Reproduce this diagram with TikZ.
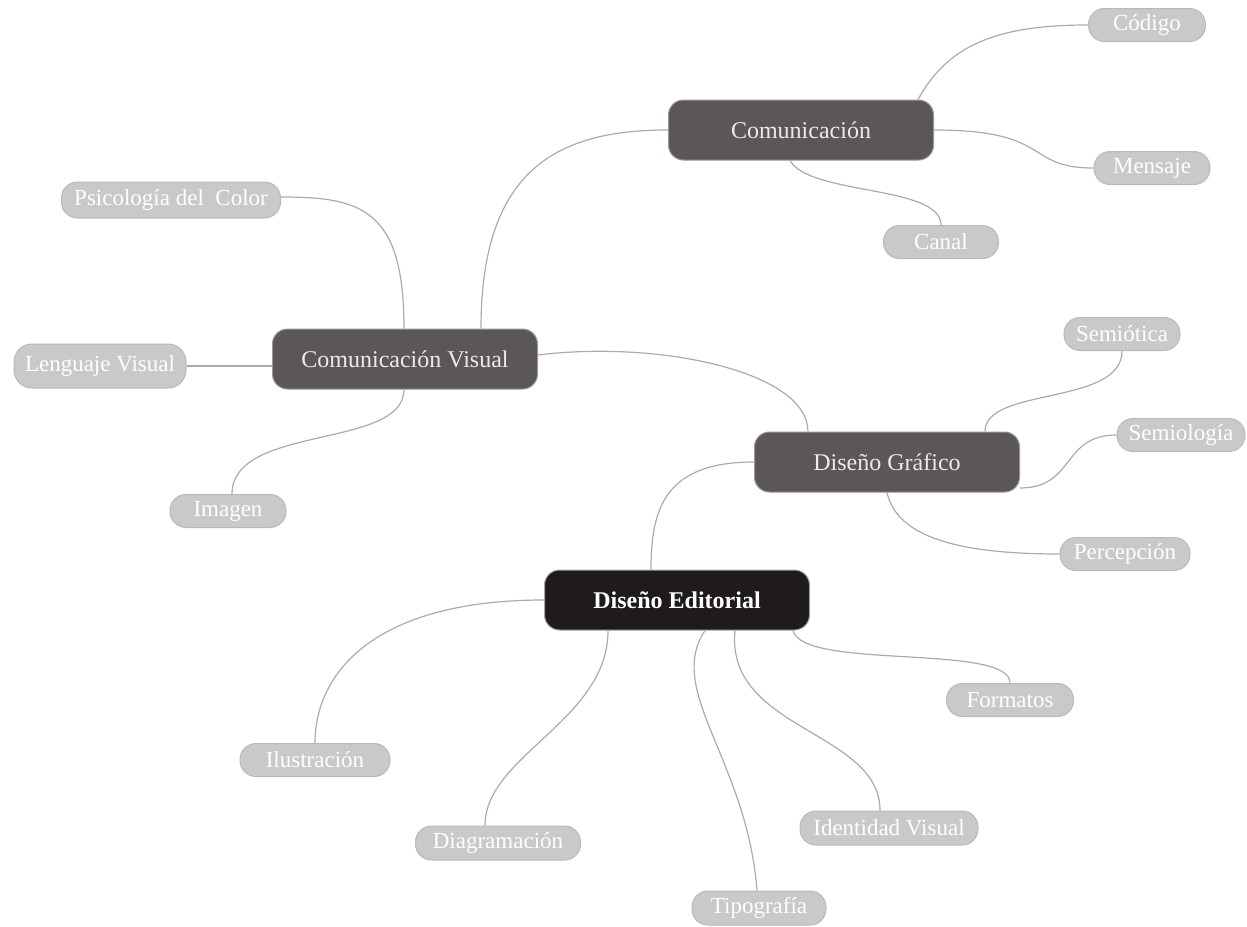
\documentclass[tikz,border=0pt]{standalone}
\usepackage{fontspec}
\setmainfont{Liberation Serif}
\definecolor{linkgray}{HTML}{ABABAB}
\definecolor{leaffill}{HTML}{C9C9C9}
\definecolor{leafedge}{HTML}{B9B9B9}
\definecolor{mainfill}{HTML}{5B5658}
\definecolor{mainedge}{HTML}{9A9698}
\definecolor{rootfill}{HTML}{1F1B1B}
\definecolor{maintext}{HTML}{EBEBEB}
\tikzset{
  hub/.style={fill=mainfill, draw=mainedge, line width=1pt, rounded corners=15pt,
    text=maintext, font=\fontsize{24}{28}\selectfont,
    minimum width=265pt, minimum height=60pt, inner sep=0pt},
  rootbox/.style={hub, fill=rootfill, draw=gray!70, text=white,
    font=\fontsize{24}{28}\selectfont\bfseries},
  leaf/.style={fill=leaffill, draw=leafedge, line width=1pt, rounded corners=16pt,
    text=white, font=\fontsize{23}{26}\selectfont,
    minimum height=33pt, inner sep=0pt},
  link/.style={draw=linkgray, line width=1.2pt}
}
\begin{document}
\begin{tikzpicture}[x=1pt,y=-1pt]
\useasboundingbox (0,0) rectangle (1247,926);

% central hubs
\node[hub] (com) at (801,130) {Comunicación};
\node[hub] (cv) at (405,359) {Comunicación Visual};
\node[hub] (dg) at (887,462) {Diseño Gráfico};
\node[rootbox] (de) at (677,600) {Diseño Editorial};

% leaves
\node[leaf, minimum width=117pt] (codigo) at (1147,25) {Código};
\node[leaf, minimum width=116pt] (mensaje) at (1152,168) {Mensaje};
\node[leaf, minimum width=115pt] (canal) at (941,242) {Canal};
\node[leaf, minimum width=219pt, minimum height=36pt] (psico) at (171,200) {Psicología del\ \ Color};
\node[leaf, minimum width=172pt, minimum height=44pt, rounded corners=18pt] (lengua) at (100,366) {Lenguaje Visual};
\node[leaf, minimum width=116pt] (imagen) at (228,511) {Imagen};
\node[leaf, minimum width=116pt] (semiot) at (1122,334) {Semiótica};
\node[leaf, minimum width=128pt] (semiol) at (1181,435) {Semiología};
\node[leaf, minimum width=130pt] (percep) at (1125,554) {Percepción};
\node[leaf, minimum width=127pt] (formatos) at (1010,700) {Formatos};
\node[leaf, minimum width=150pt] (ilus) at (315,760) {Ilustración};
\node[leaf, minimum width=165pt, minimum height=34pt] (diag) at (498,843) {Diagramación};
\node[leaf, minimum width=134pt, minimum height=34pt] (tipo) at (759,908) {Tipografía};
\node[leaf, minimum width=178pt, minimum height=34pt] (idv) at (889,828) {Identidad Visual};

% connectors
\path[link] ([xshift=76pt]cv.north) .. controls +(0,-160) and +(-110,0) .. (com.west);
\path[link] ([xshift=117pt]com.north) .. controls +(30,-55) and +(-90,0) .. (codigo.west);
\path[link] (com.east) .. controls +(120,0) and +(-70,0) .. (mensaje.west);
\path[link] ([xshift=-11pt]com.south) .. controls +(20,35) and +(0,-40) .. (canal.north);
\path[link] ([xshift=-1pt]cv.north) .. controls +(0,-120) and +(80,0) .. ([yshift=3pt]psico.east);
\path[link] (lengua.east) -- (lengua.east -| cv.west);
\path[link] ([xshift=-1pt]cv.south) .. controls +(0,60) and +(0,-70) .. ([xshift=4pt]imagen.north);
\path[link] ([yshift=4pt]cv.east) .. controls +(120,-15) and +(0,-60) .. ([xshift=-79pt]dg.north);
\path[link] ([xshift=98pt]dg.north) .. controls +(0,-45) and +(0,55) .. (semiot.south);
\path[link] ([yshift=-26pt]dg.east) .. controls +(55,0) and +(-55,0) .. (semiol.west);
\path[link] (dg.south) .. controls +(10,45) and +(-100,0) .. (percep.west);
\path[link] (dg.west) .. controls +(-90,0) and +(0,-60) .. ([xshift=-26pt]de.north);
\path[link] (de.west) .. controls +(-170,0) and +(0,-70) .. (ilus.north);
\path[link] ([xshift=-69pt]de.south) .. controls +(0,90) and +(0,-70) .. ([xshift=-13pt]diag.north);
\path[link] ([xshift=28pt]de.south) .. controls +(-40,60) and +(-10,-130) .. ([xshift=-2pt]tipo.north);
\path[link] ([xshift=58pt]de.south) .. controls +(-10,100) and +(0,-80) .. ([xshift=-9pt]idv.north);
\path[link] ([xshift=116pt]de.south) .. controls +(10,40) and +(0,-40) .. (formatos.north);
\end{tikzpicture}
\end{document}
